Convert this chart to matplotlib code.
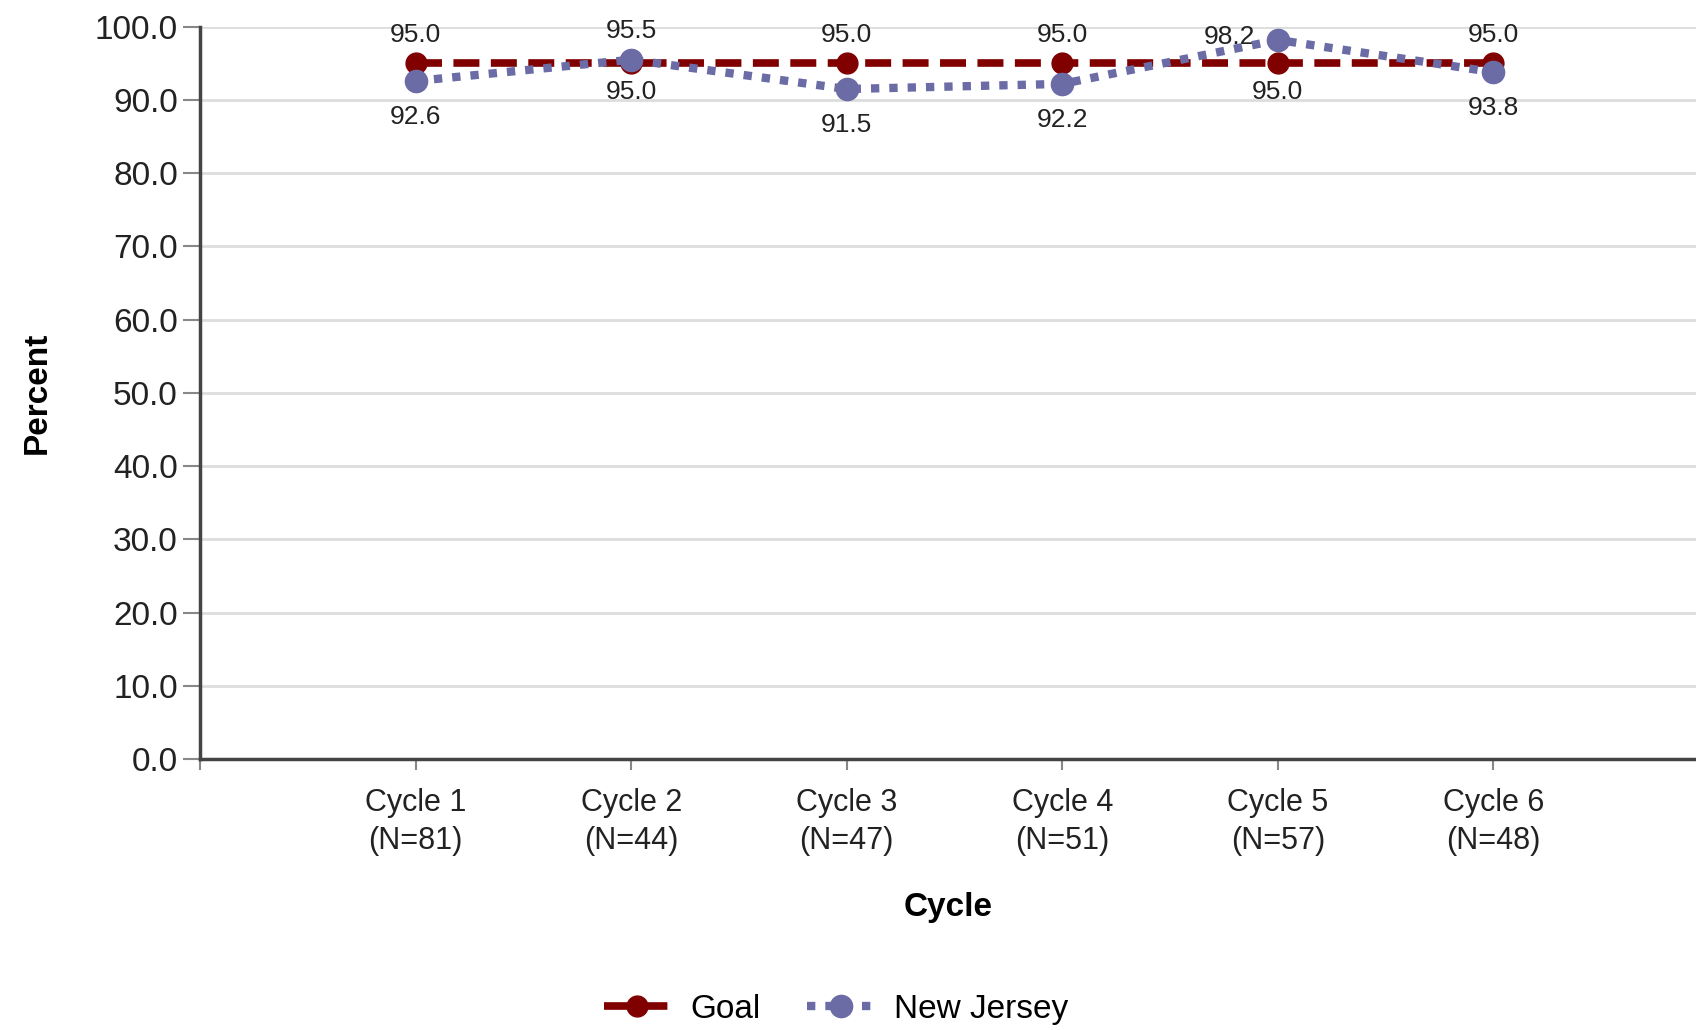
import numpy as np
import matplotlib.pyplot as plt

plt.rcParams['font.family'] = ['Liberation Sans', 'DejaVu Sans']

cycles = ['Cycle 1\n(N=81)', 'Cycle 2\n(N=44)', 'Cycle 3\n(N=47)',
          'Cycle 4\n(N=51)', 'Cycle 5\n(N=57)', 'Cycle 6\n(N=48)']
goal = [95.0, 95.0, 95.0, 95.0, 95.0, 95.0]
new_jersey = [92.6, 95.5, 91.5, 92.2, 98.2, 93.8]

goal_color = '#800000'
nj_color = '#6b6ba6'

if __name__ == '__main__':
    fig = plt.figure(figsize=(16.96, 10.30), dpi=100)
    ax = fig.add_axes([0.118, 0.263, 0.882, 0.711])

    x = np.arange(len(cycles))
    ax.plot(x, goal, color=goal_color, linestyle=(0, (3.4, 1.5)), linewidth=5.5,
            marker='o', markersize=15, label='Goal', zorder=3)
    ax.plot(x, new_jersey, color=nj_color, linestyle=(0, (1, 1.2)), linewidth=6,
            marker='o', markersize=16, label='New Jersey', zorder=4)

    lbl = dict(textcoords='offset points', fontsize=19, color='#222222', ha='center')
    for xi, g, nj in zip(x, goal, new_jersey):
        if nj > 97:
            ax.annotate(f'{nj:.1f}', (xi, nj), xytext=(-35, 2), va='center', **lbl)
            ax.annotate(f'{g:.1f}', (xi, g), xytext=(0, -12), va='top', **lbl)
        elif nj > g:
            ax.annotate(f'{nj:.1f}', (xi, nj), xytext=(0, 12), va='bottom', **lbl)
            ax.annotate(f'{g:.1f}', (xi, g), xytext=(0, -12), va='top', **lbl)
        else:
            ax.annotate(f'{g:.1f}', (xi, g), xytext=(0, 12), va='bottom', **lbl)
            ax.annotate(f'{nj:.1f}', (xi, nj), xytext=(0, -17), va='top', **lbl)

    ax.set_xlim(-1, 5.94)
    ax.set_ylim(0, 100)
    ax.set_yticks(np.arange(0, 101, 10))
    ax.set_yticklabels([f'{v:.1f}' for v in np.arange(0, 101, 10)])
    ax.set_xticks(np.arange(-1, 6))
    ax.set_xticklabels([''] + cycles, linespacing=1.35)

    ax.grid(axis='y', color='#dddddd', linewidth=2)
    ax.set_axisbelow(True)
    for s in ['top', 'right']:
        ax.spines[s].set_visible(False)
    for s in ['left', 'bottom']:
        ax.spines[s].set_color('#444444')
        ax.spines[s].set_linewidth(2.5)
    ax.tick_params(axis='y', labelsize=24, colors='#888888', labelcolor='#222222',
                   length=12, width=1.5, pad=4)
    ax.tick_params(axis='x', labelsize=22, colors='#888888', labelcolor='#222222',
                   length=8, width=1.5, pad=13)

    ax.set_ylabel('Percent', fontsize=24, fontweight='bold', labelpad=30)
    ax.set_xlabel('Cycle', fontsize=24, fontweight='bold', labelpad=26)

    fig.legend(loc='lower center', bbox_to_anchor=(0.493, -0.024), ncol=2,
               frameon=False, fontsize=24, handlelength=2.0, handletextpad=0.6,
               columnspacing=1.4)

    plt.savefig('out.png')
